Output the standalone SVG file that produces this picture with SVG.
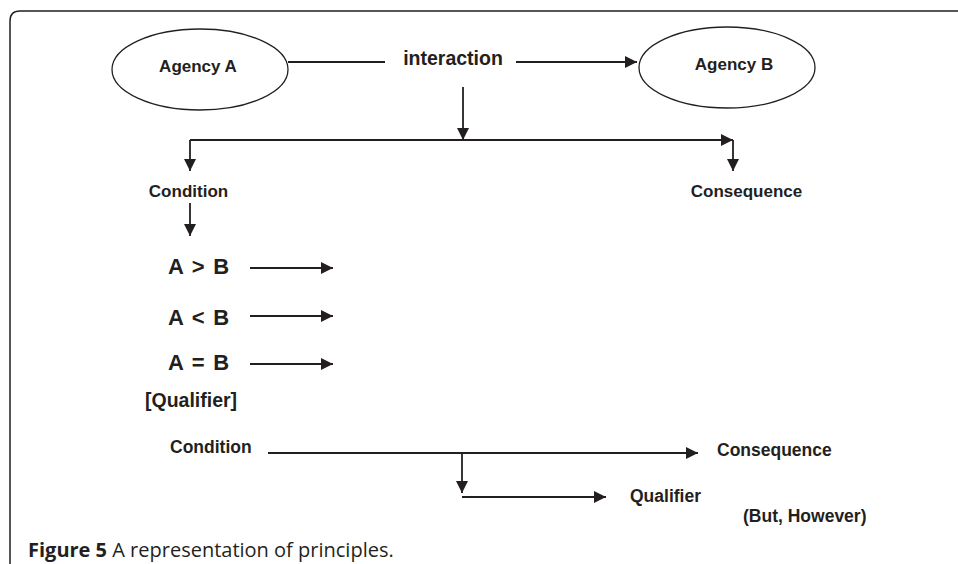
<svg xmlns="http://www.w3.org/2000/svg" width="958" height="564" viewBox="0 0 958 564">
<defs>
<marker id="ah" markerUnits="userSpaceOnUse" markerWidth="13" markerHeight="12" refX="12" refY="6" orient="auto">
<path d="M0,0 L12,6 L0,12 z" fill="#231f20"/>
</marker>
<style>
.t{font-family:"Liberation Sans",Arial,sans-serif;font-weight:bold;fill:#231f20}
.c{stroke:#231f20;stroke-width:1.8;fill:none}
.a{marker-end:url(#ah)}
.e{stroke:#231f20;stroke-width:1.3;fill:#fff}
.r{font-size:22px;word-spacing:2.5px}
</style>
</defs>
<rect width="958" height="564" fill="#fff"/>
<path d="M10,564 L10,21 Q10,11 20,11 L958,11" fill="none" stroke="#231f20" stroke-width="1.5"/>
<g id="connectors">
<line class="c" x1="288" y1="62" x2="385" y2="62"/>
<line class="c a" x1="516" y1="62" x2="637" y2="62"/>
<line class="c a" x1="463" y1="87" x2="463" y2="140"/>
<line class="c a" x1="190" y1="140" x2="733" y2="140"/>
<line class="c a" x1="190" y1="140" x2="190" y2="171"/>
<line class="c a" x1="733" y1="140" x2="733" y2="171"/>
<line class="c a" x1="190" y1="203" x2="190" y2="236"/>
<line class="c a" x1="250" y1="268" x2="333" y2="268"/>
<line class="c a" x1="250" y1="316" x2="333" y2="316"/>
<line class="c a" x1="250" y1="364" x2="333" y2="364"/>
<line class="c a" x1="268" y1="453" x2="698" y2="453"/>
<line class="c a" x1="462" y1="453" x2="462" y2="493"/>
<line class="c a" x1="462" y1="497" x2="606" y2="497"/>
</g>
<g id="agencyA">
<ellipse class="e" cx="200" cy="69.5" rx="88" ry="40.5"/>
<text class="t" x="198" y="72" font-size="17" text-anchor="middle">Agency A</text>
</g>
<g id="interaction">
<text class="t" x="453" y="65" font-size="19.5" text-anchor="middle">interaction</text>
</g>
<g id="agencyB">
<ellipse class="e" cx="727" cy="67.5" rx="88" ry="40.5"/>
<text class="t" x="734" y="70" font-size="17" text-anchor="middle">Agency B</text>
</g>
<g id="condition1">
<text class="t" x="188.5" y="197" font-size="17" text-anchor="middle">Condition</text>
</g>
<g id="consequence1">
<text class="t" x="746.5" y="197" font-size="17" text-anchor="middle">Consequence</text>
</g>
<g id="agtb">
<text class="t r" x="168" y="274">A &gt; B</text>
</g>
<g id="altb">
<text class="t r" x="168" y="325">A &lt; B</text>
</g>
<g id="aeqb">
<text class="t r" x="168" y="370">A = B</text>
</g>
<g id="qualifier1">
<text class="t" x="145" y="407" font-size="19.5">[Qualifier]</text>
</g>
<g id="condition2">
<text class="t" x="170" y="453" font-size="17.5">Condition</text>
</g>
<g id="consequence2">
<text class="t" x="717" y="456" font-size="17.5">Consequence</text>
</g>
<g id="qualifier2">
<text class="t" x="630" y="502" font-size="17.5">Qualifier</text>
</g>
<g id="buthowever">
<text class="t" x="743" y="522" font-size="17.5">(But, However)</text>
</g>
<text x="28" y="557" font-family="'Open Sans','Noto Sans',sans-serif" font-size="20" fill="#231f20"><tspan font-weight="bold">Figure 5</tspan> A representation of principles.</text>
</svg>
